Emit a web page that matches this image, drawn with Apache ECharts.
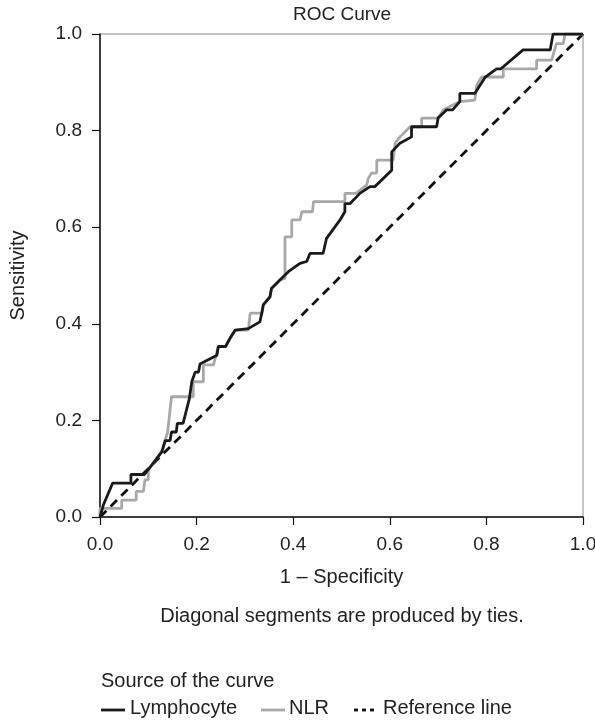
<!DOCTYPE html>
<html>
<head>
<meta charset="utf-8">
<script src="https://cdn.jsdelivr.net/npm/echarts@6/dist/echarts.min.js"></script>
<style>
html,body{margin:0;padding:0;background:#fff;}
#chart{width:595px;height:721px;}
</style>
</head>
<body>
<div id="chart"></div>
<script>
var tickValues = [0, 0.2, 0.4, 0.6, 0.8, 1.0];

var lymphocyte = [
  [0,0],[0.007,0.025],[0.026,0.07],[0.064,0.07],[0.064,0.088],[0.092,0.088],
  [0.128,0.135],[0.135,0.158],[0.145,0.158],[0.148,0.176],[0.158,0.176],[0.16,0.194],
  [0.172,0.194],[0.185,0.245],[0.19,0.28],[0.197,0.3],[0.204,0.3],[0.207,0.317],
  [0.242,0.335],[0.245,0.353],[0.26,0.353],[0.269,0.37],[0.28,0.387],[0.307,0.39],
  [0.331,0.404],[0.335,0.422],[0.338,0.439],[0.352,0.456],[0.355,0.473],[0.373,0.491],
  [0.39,0.508],[0.414,0.525],[0.428,0.529],[0.435,0.546],[0.462,0.546],[0.469,0.577],
  [0.497,0.615],[0.507,0.632],[0.507,0.649],[0.518,0.649],[0.538,0.67],[0.559,0.684],
  [0.569,0.684],[0.604,0.718],[0.604,0.756],[0.621,0.774],[0.645,0.787],[0.645,0.808],
  [0.697,0.808],[0.7,0.826],[0.718,0.843],[0.73,0.843],[0.745,0.86],[0.745,0.877],
  [0.776,0.877],[0.797,0.91],[0.821,0.928],[0.83,0.928],[0.876,0.967],[0.932,0.967],
  [0.938,1.0],[1.0,1.0]
];

var nlr = [
  [0,0],[0,0.018],[0.045,0.018],[0.045,0.035],[0.075,0.035],[0.075,0.053],[0.09,0.053],
  [0.093,0.077],[0.1,0.077],[0.1,0.097],[0.12,0.125],[0.13,0.14],[0.135,0.16],[0.14,0.175],
  [0.148,0.249],[0.193,0.249],[0.193,0.28],[0.214,0.28],[0.214,0.315],[0.235,0.315],
  [0.24,0.333],[0.245,0.353],[0.26,0.353],[0.28,0.387],[0.307,0.387],[0.311,0.422],
  [0.335,0.422],[0.338,0.439],[0.352,0.456],[0.355,0.473],[0.373,0.491],[0.383,0.494],
  [0.383,0.58],[0.397,0.58],[0.397,0.615],[0.414,0.615],[0.418,0.632],[0.44,0.632],
  [0.442,0.653],[0.507,0.653],[0.507,0.67],[0.53,0.67],[0.552,0.687],[0.555,0.7],
  [0.562,0.712],[0.573,0.712],[0.573,0.739],[0.607,0.739],[0.611,0.774],[0.621,0.787],
  [0.642,0.808],[0.666,0.808],[0.666,0.826],[0.7,0.826],[0.711,0.843],[0.745,0.86],
  [0.776,0.863],[0.78,0.894],[0.79,0.911],[0.835,0.911],[0.835,0.928],[0.904,0.928],
  [0.904,0.946],[0.935,0.946],[0.945,0.98],[0.959,0.98],[0.963,1.0],[1.0,1.0]
];

var referenceLine = [[0,0],[1,1]];

var seriesNames = ['Lymphocyte', 'NLR', 'Reference line'];
var titleText = 'ROC Curve';
var xName = '1 \u2013 Specificity';
var yName = 'Sensitivity';
var footnote = 'Diagonal segments are produced by ties.';
var legendTitle = 'Source of the curve';

var FONT = '"Liberation Sans", Arial, Helvetica, sans-serif';
var chart = echarts.init(document.getElementById('chart'), null, {renderer: 'canvas'});

var axisCommon = {
  type: 'value', min: 0, max: 1, interval: 0.2,
  axisLine: {show: true, lineStyle: {color: '#111', width: 1.5}},
  axisTick: {show: true, length: 8, lineStyle: {color: '#111', width: 1.2}},
  splitLine: {show: false},
  nameLocation: 'middle',
  nameTextStyle: {fontFamily: FONT, fontSize: 20, color: '#222'},
  axisLabel: {fontFamily: FONT, fontSize: 19, color: '#222',
    formatter: function (v) { return v.toFixed(1); }}
};

var option = {
  animation: false,
  backgroundColor: '#fff',
  grid: {left: 100, top: 34, width: 483, height: 483, show: true,
         containLabel: false, outerBoundsMode: 'none',
         borderColor: '#8c8c8c', borderWidth: 1, backgroundColor: 'transparent'},
  xAxis: Object.assign({}, axisCommon, {
    name: xName, nameGap: 50,
    axisLabel: Object.assign({}, axisCommon.axisLabel, {margin: 18})
  }),
  yAxis: Object.assign({}, axisCommon, {
    name: yName, nameGap: 72,
    axisLabel: Object.assign({}, axisCommon.axisLabel, {margin: 18})
  }),
  series: [
    {name: seriesNames[2], type: 'line', data: referenceLine, symbol: 'none', z: 1,
     lineStyle: {color: '#111', width: 2.8, type: [9, 6]}},
    {name: seriesNames[1], type: 'line', data: nlr, symbol: 'none', z: 2,
     lineStyle: {color: '#a8a8a8', width: 2.8}},
    {name: seriesNames[0], type: 'line', data: lymphocyte, symbol: 'none', z: 3,
     lineStyle: {color: '#1a1a1a', width: 2.8}}
  ],
  graphic: [
    {type: 'text', x: 342, y: 15, style: {text: titleText, font: '19px ' + FONT, fill: '#222', textAlign: 'center', textVerticalAlign: 'middle'}},
    {type: 'text', x: 342, y: 616, style: {text: footnote, font: '20px ' + FONT, fill: '#222', textAlign: 'center', textVerticalAlign: 'middle'}},
    {type: 'text', x: 101, y: 681, style: {text: legendTitle, font: '20px ' + FONT, fill: '#222', textVerticalAlign: 'middle'}},
    {type: 'line', shape: {x1: 101, y1: 710, x2: 125, y2: 710}, style: {stroke: '#1a1a1a', lineWidth: 2.8}},
    {type: 'text', x: 130, y: 708, style: {text: seriesNames[0], font: '20px ' + FONT, fill: '#222', textVerticalAlign: 'middle'}},
    {type: 'line', shape: {x1: 261, y1: 710, x2: 285, y2: 710}, style: {stroke: '#a8a8a8', lineWidth: 2.8}},
    {type: 'text', x: 289, y: 708, style: {text: seriesNames[1], font: '20px ' + FONT, fill: '#222', textVerticalAlign: 'middle'}},
    {type: 'line', shape: {x1: 354, y1: 710, x2: 378, y2: 710}, style: {stroke: '#111', lineWidth: 2.8, lineDash: [4, 4]}},
    {type: 'text', x: 383, y: 708, style: {text: seriesNames[2], font: '20px ' + FONT, fill: '#222', textVerticalAlign: 'middle'}}
  ]
};
chart.setOption(option);
</script>
</body>
</html>
